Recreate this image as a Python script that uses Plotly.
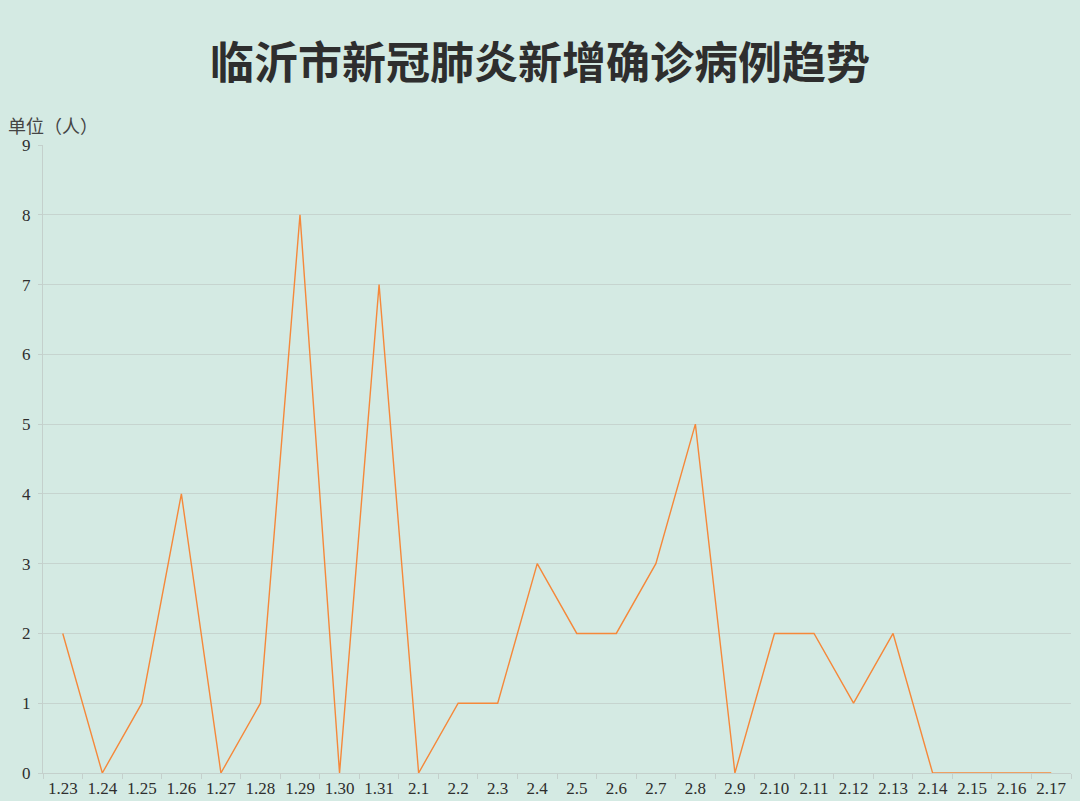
import plotly.graph_objects as go

dates = ["1.23", "1.24", "1.25", "1.26", "1.27", "1.28", "1.29", "1.30", "1.31",
         "2.1", "2.2", "2.3", "2.4", "2.5", "2.6", "2.7", "2.8", "2.9", "2.10",
         "2.11", "2.12", "2.13", "2.14", "2.15", "2.16", "2.17"]
new_cases = [2, 0, 1, 4, 0, 1, 8, 0, 7, 0, 1, 1, 3, 2, 2, 3, 5, 0, 2, 2, 1, 2, 0, 0, 0, 0]
y_ticks = [0, 1, 2, 3, 4, 5, 6, 7, 8, 9]

BG = "#D4EAE3"

fig = go.Figure()
fig.add_trace(go.Scatter(
    x=dates, y=new_cases, mode="lines",
    line=dict(color="#F5883A", width=1.4),
    hoverinfo="x+y", showlegend=False,
))

fig.update_layout(
    width=1080, height=801,
    paper_bgcolor=BG, plot_bgcolor=BG,
    margin=dict(l=43, r=9, t=145, b=28, autoexpand=False),
    title=dict(text="<b>临沂市新冠肺炎新增确诊病例趋势</b>",
               x=0.5, xanchor="center", y=0.921, yanchor="middle",
               font=dict(family="Noto Sans CJK SC", size=44, color="#2E2E2E")),
    xaxis=dict(
        type="category", range=[-0.5, len(dates) - 0.5], automargin=False,
        showgrid=False, showline=True, linecolor="#C4D0CC", linewidth=1,
        ticks="outside", tickson="boundaries", ticklen=5, tickcolor="#C4D0CC",
        tickfont=dict(family="Liberation Serif", size=17, color="#2E2E2E"),
        zeroline=False,
    ),
    yaxis=dict(
        range=[0, 9], tickvals=y_ticks, automargin=False,
        showgrid=True, gridcolor="#C6D4CF", gridwidth=1,
        showline=True, linecolor="#C4D0CC", linewidth=1,
        ticks="outside", ticklen=4, tickcolor="#C4D0CC",
        tickfont=dict(family="Liberation Serif", size=17, color="#2E2E2E"),
        zeroline=False, ticklabelstandoff=4,
    ),
    annotations=[dict(
        text="单位（人）", xref="paper", yref="paper", x=-0.036, y=1.008,
        xanchor="left", yanchor="bottom", showarrow=False,
        font=dict(family="Noto Sans CJK SC", size=18, color="#444444"),
    )],
)

fig.write_html("out.html", config={"displayModeBar": False},
               post_script="document.body.style.margin='0';document.body.style.background='%s';" % BG)
